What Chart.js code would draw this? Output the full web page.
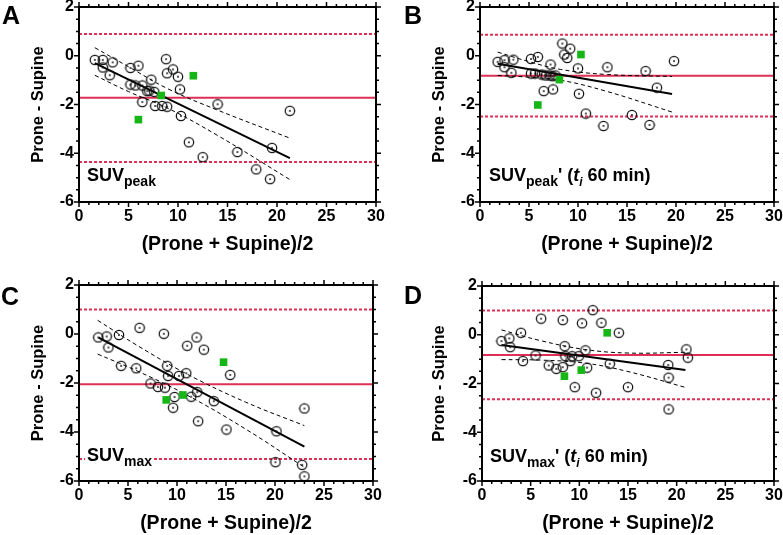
<!DOCTYPE html>
<html>
<head>
<meta charset="utf-8">
<script src="https://cdn.jsdelivr.net/npm/chart.js@4.4.1/dist/chart.umd.min.js"></script>
<style>
body { margin: 0; background: #fff; width: 783px; height: 535px; position: relative; overflow: hidden; font-family: "Liberation Sans", Arial, sans-serif; }
canvas { position: absolute; }
.lab { position: absolute; font-weight: bold; color: #000; white-space: nowrap; }
.letter { font-size: 25px; line-height: 25px; }
.note { font-size: 18px; line-height: 18px; background: #fff; padding: 0 2px; }
.note sub { font-size: 14px; line-height: 0; vertical-align: -5px; }
.note i sub { font-size: 12px; }
</style>
</head>
<body>
<canvas id="cA" width="392" height="268" style="left:0;top:0"></canvas>
<canvas id="cB" width="391" height="268" style="left:392px;top:0"></canvas>
<canvas id="cC" width="392" height="267" style="left:0;top:268px"></canvas>
<canvas id="cD" width="391" height="267" style="left:392px;top:268px"></canvas>

<div class="lab letter" style="left:2px;top:3px">A</div>
<div class="lab letter" style="left:404px;top:3px">B</div>
<div class="lab letter" style="left:1px;top:284px">C</div>
<div class="lab letter" style="left:404px;top:283px">D</div>

<div class="lab note" style="left:85px;top:166px">SUV<sub>peak</sub></div>
<div class="lab note" style="left:487px;top:166px">SUV<sub>peak</sub>' (<i>t<sub>i</sub></i> 60 min)</div>
<div class="lab note" style="left:85px;top:446px">SUV<sub>max</sub></div>
<div class="lab note" style="left:488px;top:447px">SUV<sub>max</sub>' (<i>t<sub>i</sub></i> 60 min)</div>

<script>
// A: SUVpeak
const circXA = [1.6, 2.4, 2.4, 3.4, 3.1, 5.2, 6.0, 5.2, 5.7, 6.4, 6.9, 7.1, 7.3, 7.6, 6.4, 7.7, 8.4, 8.9, 8.8, 8.9, 9.5, 10.0, 10.2, 10.3, 11.1, 12.5, 14.0, 16.0, 17.9, 19.3, 19.5, 21.3]
const circYA = [-0.17, -0.17, -0.48, -0.27, -0.80, -0.50, -0.41, -1.18, -1.22, -1.22, -1.45, -1.43, -0.98, -1.48, -1.90, -2.06, -2.06, -2.09, -0.14, -0.72, -0.56, -0.86, -1.38, -2.47, -3.55, -4.16, -1.99, -3.95, -4.66, -5.06, -3.78, -2.26]
const sqXA = [11.55, 8.3, 6.0]
const sqYA = [-0.82, -1.63, -2.62]
const statsA = [-1.72, 0.89, -4.36]   // mean, upper LoA, lower LoA
const regXA = [1.6, 21.3], regYA = [-0.30, -4.20]
const bandXA = [1.6, 5, 9, 14, 21.3]
const bandUpA = [0.33, -0.45, -1.36, -2.23, -3.38]
const bandLoA = [-0.80, -1.47, -2.16, -3.27, -5.08]

// B: SUVpeak' (ti 60 min)
const circXB = [1.8, 2.5, 2.5, 3.4, 3.2, 5.2, 5.9, 5.2, 5.6, 6.3, 6.7, 7.1, 7.4, 7.7, 7.2, 6.5, 7.45, 8.4, 8.6, 8.9, 9.2, 10.0, 10.1, 10.8, 13.0, 12.6, 15.5, 16.9, 17.3, 18.05, 19.8]
const circYB = [-0.25, -0.18, -0.47, -0.16, -0.70, -0.13, -0.05, -0.73, -0.73, -0.77, -0.81, -0.81, -0.84, -0.81, -0.36, -1.45, -1.38, 0.50, 0.05, -0.09, 0.29, -0.52, -1.56, -2.37, -0.47, -2.88, -2.43, -0.63, -2.84, -1.31, -0.22]
const sqXB = [10.3, 8.1, 5.9]
const sqYB = [0.05, -0.98, -2.02]
const statsB = [-0.82, 0.86, -2.49]
const regXB = [1.8, 19.6], regYB = [-0.33, -1.57]
const bandXB = [1.8, 5, 8.2, 13, 19.6]
const bandUpB = [0.15, -0.24, -0.56, -0.77, -0.85]
const bandLoB = [-0.81, -0.88, -1.00, -1.47, -2.31]

// C: SUVmax
const circXC = [1.97, 2.82, 3.0, 4.08, 6.18, 4.3, 5.84, 8.66, 7.3, 8.05, 8.77, 9.0, 9.1, 10.2, 10.94, 9.75, 9.6, 11.04, 12.0, 12.74, 11.45, 12.06, 12.16, 13.76, 15.05, 15.43, 20.15, 20.05, 23.0, 22.77, 23.0]
const circYC = [-0.14, -0.10, -0.55, -0.04, 0.25, -1.30, -1.40, 0.01, -2.02, -2.16, -2.19, -1.30, -1.71, -1.71, -1.60, -2.57, -3.01, -0.48, -0.14, -0.64, -2.56, -2.37, -3.56, -2.74, -3.90, -1.67, -3.97, -5.23, -3.04, -5.34, -5.81]
const sqXC = [14.75, 10.6, 8.9]
const sqYC = [-1.15, -2.49, -2.69]
const statsC = [-2.05, 1.0, -5.10]
const regXC = [2.0, 23.0], regYC = [-0.15, -4.60]
const bandXC = [1.9, 6, 11, 17, 23.0]
const bandUpC = [0.56, -0.48, -1.63, -2.78, -3.74]
const bandLoC = [-0.82, -1.52, -2.49, -3.88, -5.44]

// D: SUVmax' (ti 60 min)
const circXD = [2.0, 2.8, 2.9, 4.0, 4.2, 5.5, 6.07, 6.86, 7.64, 8.3, 8.3, 8.5, 8.57, 9.08, 9.26, 9.94, 9.53, 10.28, 10.63, 10.8, 11.38, 11.72, 12.27, 13.13, 14.06, 15.0, 19.13, 19.17, 19.17, 21.0, 21.15]
const circYD = [-0.26, -0.15, -0.51, 0.08, -1.08, -0.85, 0.66, -1.26, -1.40, -1.33, 0.60, -0.47, -0.88, -1.08, -0.88, -0.88, -2.15, 0.47, -0.64, -1.35, 1.01, -2.38, 0.49, -1.19, 0.08, -2.15, -1.24, -1.76, -3.06, -0.60, -0.94]
const sqXD = [12.86, 10.2, 8.47]
const sqYD = [0.08, -1.45, -1.70]
const statsD = [-0.83, 1.0, -2.65]
const regXD = [2.0, 20.9], regYD = [-0.42, -1.45]
const bandXD = [2.0, 6, 10.5, 15, 20.9]
const bandUpD = [0.20, -0.24, -0.60, -0.75, -0.72]
const bandLoD = [-1.02, -1.04, -1.16, -1.51, -2.16]

const xTicks = [0, 5, 10, 15, 20, 25, 30]
const yTicks = [-6, -4, -2, 0, 2]

const RED = '#de2f55', GREEN = '#17b617'
const tickFont = { family: 'Liberation Sans', weight: 'bold', size: 16 }

// open circle with a dot in the middle
let ring = document.createElement('canvas')
ring.width = ring.height = 12
let rc = ring.getContext('2d')
rc.strokeStyle = '#111'
rc.lineWidth = 1.25
rc.beginPath(); rc.arc(6, 6, 4.7, 0, 2 * Math.PI); rc.stroke()
rc.fillStyle = '#111'
rc.beginPath(); rc.arc(6, 6, 0.95, 0, 2 * Math.PI); rc.fill()

const pts = (xs, ys) => xs.map((x, i) => ({ x: x, y: ys[i] }))

// box round the plot, ticks on all four sides
const frame = {
    id: 'frame',
    afterDraw(chart) {
        let { ctx, chartArea: a, scales: { x, y } } = chart
        ctx.save()
        ctx.strokeStyle = '#000'
        ctx.lineWidth = 2
        ctx.strokeRect(a.left, a.top, a.right - a.left, a.bottom - a.top)
        ctx.lineWidth = 1.5
        ctx.beginPath()
        for (let v = 0; v <= 30; v++) {
            let px = x.getPixelForValue(v), len = v % 5 ? 3 : 5
            ctx.moveTo(px, a.bottom); ctx.lineTo(px, a.bottom + len)
            ctx.moveTo(px, a.top); ctx.lineTo(px, a.top - len)
        }
        for (let v = -6; v <= 2; v += 0.5) {
            let py = y.getPixelForValue(v), len = v % 2 ? 3 : 5
            ctx.moveTo(a.left, py); ctx.lineTo(a.left - len, py)
            ctx.moveTo(a.right, py); ctx.lineTo(a.right + len, py)
        }
        ctx.stroke()
        ctx.restore()
    }
}

function panel(id, g, cx, cy, sx, sy, stats, rx, ry, bx, bu, bl) {
    let flat = v => [{ x: 0, y: v }, { x: 30, y: v }]
    return new Chart(document.getElementById(id), {
        type: 'scatter',
        data: {
            datasets: [
                { data: pts(sx, sy), pointStyle: 'rect', pointRadius: 5.4, backgroundColor: GREEN, borderWidth: 0, order: 0 },
                { data: pts(cx, cy), pointStyle: ring, pointRadius: 6, order: 1 },
                { data: pts(rx, ry), showLine: true, pointRadius: 0, borderColor: '#000', borderWidth: 2, order: 2 },
                { data: pts(bx, bu), showLine: true, pointRadius: 0, borderColor: '#000', borderWidth: 1, borderDash: [4, 3], tension: 0.4, order: 3 },
                { data: pts(bx, bl), showLine: true, pointRadius: 0, borderColor: '#000', borderWidth: 1, borderDash: [4, 3], tension: 0.4, order: 3 },
                { data: flat(stats[0]), showLine: true, pointRadius: 0, borderColor: RED, borderWidth: 2, order: 4 },
                { data: flat(stats[1]), showLine: true, pointRadius: 0, borderColor: RED, borderWidth: 2, borderDash: [3, 2], order: 4 },
                { data: flat(stats[2]), showLine: true, pointRadius: 0, borderColor: RED, borderWidth: 2, borderDash: [3, 2], order: 4 }
            ]
        },
        options: {
            responsive: false,
            animation: false,
            events: [],
            layout: { padding: { left: 0, top: g.T, right: g.W - g.R, bottom: 0 } },
            plugins: { legend: { display: false }, tooltip: { enabled: false } },
            scales: {
                x: {
                    type: 'linear', min: 0, max: 30,
                    afterBuildTicks: s => { s.ticks = xTicks.map(v => ({ value: v })) },
                    afterFit: s => { s.height = g.H - g.B; s.paddingLeft = 0; s.paddingRight = 0 },
                    grid: { display: false, drawTicks: false },
                    border: { display: false },
                    ticks: { color: '#000', font: tickFont, padding: 5, maxRotation: 0 },
                    title: { display: true, text: '(Prone + Supine)/2', color: '#000', font: { family: 'Liberation Sans', weight: 'bold', size: 19.5 }, padding: { top: 0, bottom: g.xtb } }
                },
                y: {
                    type: 'linear', min: -6, max: 2,
                    afterBuildTicks: s => { s.ticks = yTicks.map(v => ({ value: v })) },
                    afterFit: s => { s.width = g.L; s.paddingTop = 0; s.paddingBottom = 0 },
                    grid: { display: false, drawTicks: false },
                    border: { display: false },
                    ticks: { color: '#000', font: tickFont, padding: 5 },
                    title: { display: true, text: 'Prone - Supine', color: '#000', font: { family: 'Liberation Sans', weight: 'bold', size: 16.5 }, padding: { top: g.ytp, bottom: 0 } }
                }
            }
        },
        plugins: [frame]
    })
}

panel('cA', { W: 392, H: 268, L: 79, R: 376, T: 5, B: 202, xtb: 11.3, ytp: 29 },
    circXA, circYA, sqXA, sqYA, statsA, regXA, regYA, bandXA, bandUpA, bandLoA)
panel('cB', { W: 391, H: 268, L: 88, R: 382, T: 5.5, B: 202, xtb: 11.3, ytp: 38 },
    circXB, circYB, sqXB, sqYB, statsB, regXB, regYB, bandXB, bandUpB, bandLoB)
panel('cC', { W: 392, H: 267, L: 79, R: 373, T: 17, B: 213, xtb: 0, ytp: 29 },
    circXC, circYC, sqXC, sqYC, statsC, regXC, regYC, bandXC, bandUpC, bandLoC)
panel('cD', { W: 391, H: 267, L: 90, R: 382, T: 18, B: 213, xtb: 0, ytp: 38 },
    circXD, circYD, sqXD, sqYD, statsD, regXD, regYD, bandXD, bandUpD, bandLoD)
</script>
</body>
</html>
